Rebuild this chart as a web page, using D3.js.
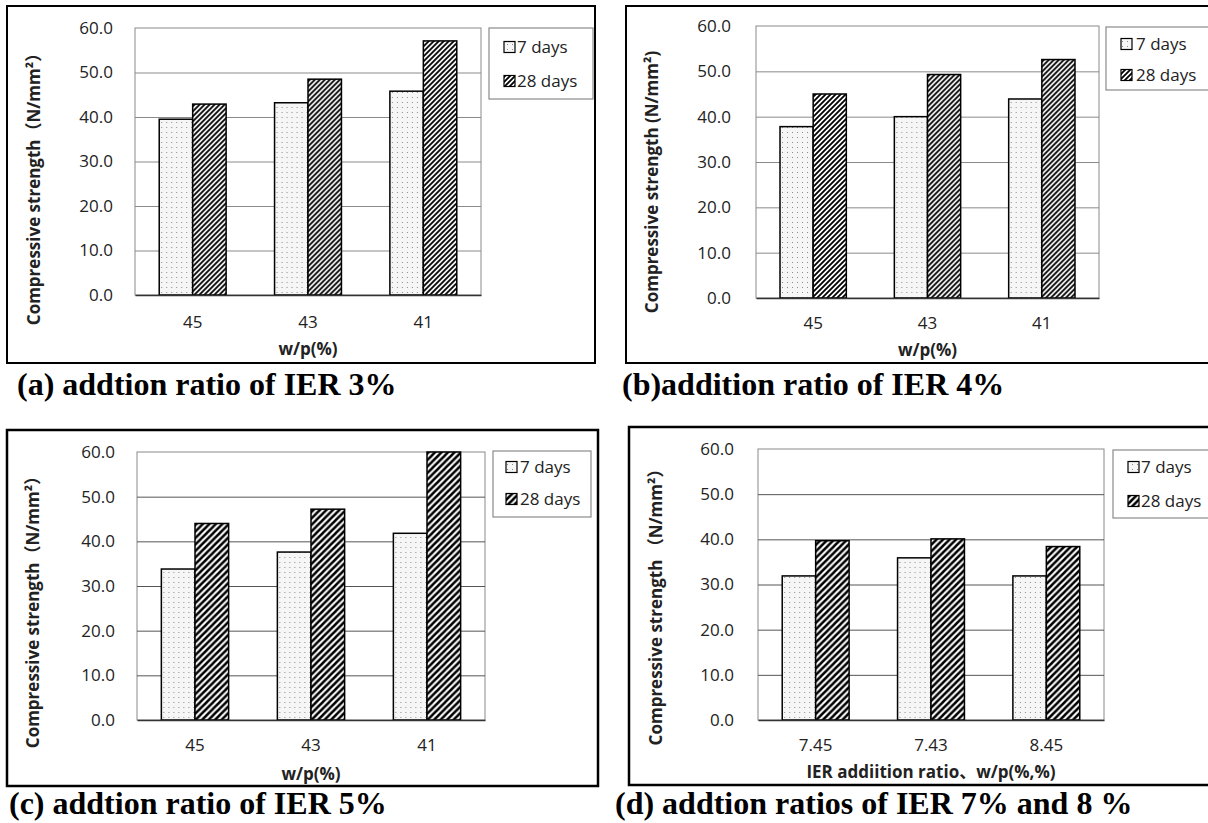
<!DOCTYPE html>
<html>
<head>
<meta charset="utf-8">
<script src="https://cdn.jsdelivr.net/npm/d3@7"></script>
<style>
  body { margin: 0; background: #fff; }
  svg { display: block; }
</style>
</head>
<body>
<div id="chart"></div>
<script>
// Data
const wpCategories = ['45', '43', '41'];
const mixCategories = ['7.45', '7.43', '8.45'];
const seriesNames = ['7 days', '28 days'];
const yTicks = [0, 10, 20, 30, 40, 50, 60];

// (a) IER 3%
const strength7A = [39.5, 43.2, 45.8];
const strength28A = [42.9, 48.5, 57.1];
// (b) IER 4%
const strength7B = [37.8, 40.0, 43.9];
const strength28B = [45.0, 49.3, 52.6];
// (c) IER 5%
const strength7C = [33.8, 37.6, 41.8];
const strength28C = [44.0, 47.2, 60.0];
// (d) IER 7% and 8%
const strength7D = [31.9, 35.9, 31.9];
const strength28D = [39.7, 40.1, 38.4];

const captions = [
    '(a) addtion ratio of IER 3%',
    '(b)addition ratio of IER 4%',
    '(c) addtion ratio of IER 5%',
    '(d) addtion ratios of IER 7% and 8 %'
];
const yTitles = [
    'Compressive strength（N/mm²）',
    'Compressive strength (N/mm²)',
    'Compressive strength（N/mm²）',
    'Compressive strength （N/mm²）'
];
const xTitles = ['w/p(%)', 'w/p(%)', 'w/p(%)', 'IER addiition ratio、w/p(%,%)'];

// Layout of each panel (page pixels)
const panels = [
    { cats: wpCategories, v7: strength7A, v28: strength28A, cap: captions[0], yTitle: yTitles[0], xTitle: xTitles[0],
      frame: [7, 6, 595, 363], plot: [135, 28, 481, 295], legend: [489, 28, 593, 99], rows: [47, 81],
      swatchX: 504, textX: 517, yLabelRight: 113, yTitleX: 34, yTitleY: 185, xLabelY: 322, xTitleY: 349,
      capX: 17, capY: 395, stripe: 'stripeFine', frameW: 2, grid: '#8a8a8a' },
    { cats: wpCategories, v7: strength7B, v28: strength28B, cap: captions[1], yTitle: yTitles[1], xTitle: xTitles[1],
      frame: [626, 6, 1240, 363], plot: [756, 26, 1099, 298], legend: [1106, 27, 1240, 90], rows: [44, 75],
      swatchX: 1121, textX: 1136, yLabelRight: 731, yTitleX: 652, yTitleY: 182, xLabelY: 323, xTitleY: 350,
      capX: 622, capY: 395, stripe: 'stripeFine', frameW: 2, grid: '#8a8a8a' },
    { cats: wpCategories, v7: strength7C, v28: strength28C, cap: captions[2], yTitle: yTitles[2], xTitle: xTitles[2],
      frame: [7, 430, 598, 786], plot: [137, 452, 485, 720], legend: [493, 451, 591, 517], rows: [467, 499],
      swatchX: 506, textX: 520, yLabelRight: 115, yTitleX: 33, yTitleY: 608, xLabelY: 745, xTitleY: 774,
      capX: 9, capY: 814, stripe: 'stripeBold', frameW: 2.5, grid: '#555' },
    { cats: mixCategories, v7: strength7D, v28: strength28D, cap: captions[3], yTitle: yTitles[3], xTitle: xTitles[3],
      frame: [629, 427, 1240, 785], plot: [758, 449, 1104, 720], legend: [1113, 450, 1240, 518], rows: [467, 501],
      swatchX: 1128, textX: 1141, yLabelRight: 734, yTitleX: 656, yTitleY: 603, xLabelY: 745, xTitleY: 772,
      capX: 615, capY: 814, stripe: 'stripeBold', frameW: 2.5, grid: '#555' }
];

const svg = d3.select('#chart').append('svg')
    .attr('width', 1208)
    .attr('height', 823);

// Fill patterns
const defs = svg.append('defs');

const dots = defs.append('pattern')
    .attr('id', 'dots')
    .attr('patternUnits', 'userSpaceOnUse')
    .attr('width', 5)
    .attr('height', 5);
dots.append('rect').attr('width', 5).attr('height', 5).attr('fill', '#f6f6f6');
dots.append('rect').attr('x', 2).attr('y', 2).attr('width', 1).attr('height', 1).attr('fill', '#8c8c8c');

function stripePattern(id, size, width) {
    const p = defs.append('pattern')
        .attr('id', id)
        .attr('patternUnits', 'userSpaceOnUse')
        .attr('width', size)
        .attr('height', size);
    p.append('rect').attr('width', size).attr('height', size).attr('fill', '#fff');
    p.append('path')
        .attr('d', `M0,${size} L${size},0 M${-size / 2},${size / 2} L${size / 2},${-size / 2} M${size / 2},${size * 1.5} L${size * 1.5},${size / 2}`)
        .attr('stroke', '#000')
        .attr('stroke-width', width);
}
stripePattern('stripeFine', 5, 1.8);
stripePattern('stripeBold', 6.5, 2.5);

panels.forEach(drawPanel);

function drawPanel(p) {
    const g = svg.append('g');
    const [pl, pt, pr, pb] = p.plot;

    // Outer frame
    g.append('rect')
        .attr('x', p.frame[0]).attr('y', p.frame[1])
        .attr('width', p.frame[2] - p.frame[0]).attr('height', p.frame[3] - p.frame[1])
        .attr('fill', 'none').attr('stroke', '#000').attr('stroke-width', p.frameW);

    const y = d3.scaleLinear().domain([0, 60]).range([pb, pt]);
    const x0 = d3.scaleBand().domain(p.cats).range([pl, pr])
        .paddingInner(0.42).paddingOuter(0.21);
    const x1 = d3.scaleBand().domain(seriesNames).range([0, x0.bandwidth()]);

    // Plot area border
    g.append('rect')
        .attr('x', pl).attr('y', pt).attr('width', pr - pl).attr('height', pb - pt)
        .attr('fill', '#fff').attr('stroke', '#8a8a8a').attr('stroke-width', 1);

    // Gridlines
    g.append('g')
        .attr('transform', `translate(${pl},0)`)
        .call(d3.axisLeft(y).tickValues(yTicks.slice(1, -1)).tickSize(-(pr - pl)).tickFormat(''))
        .call(s => s.select('.domain').remove())
        .call(s => s.selectAll('line').attr('stroke', p.grid));

    // Y tick labels
    g.append('g')
        .attr('transform', `translate(${pl},0)`)
        .call(d3.axisLeft(y).tickValues(yTicks).tickSize(0).tickPadding(pl - p.yLabelRight).tickFormat(d3.format('.1f')))
        .call(s => s.select('.domain').remove())
        .call(s => s.selectAll('text')
            .attr('font-family', '"Open Sans", sans-serif').attr('font-size', 17).attr('fill', '#222'));

    // Bars
    const groups = g.append('g').selectAll('g')
        .data(p.cats.map((c, i) => ({ cat: c, vals: [p.v7[i], p.v28[i]] })))
        .join('g')
        .attr('transform', d => `translate(${x0(d.cat)},0)`);

    groups.selectAll('rect')
        .data(d => d.vals.map((v, j) => ({ name: seriesNames[j], v })))
        .join('rect')
        .attr('x', d => x1(d.name))
        .attr('y', d => y(d.v))
        .attr('width', x1.bandwidth())
        .attr('height', d => pb - y(d.v))
        .attr('fill', d => d.name === '7 days' ? 'url(#dots)' : `url(#${p.stripe})`)
        .attr('stroke', '#000')
        .attr('stroke-width', 1.5);

    // X axis
    const labelPad = p.xLabelY - pb - 17 * 0.36;
    g.append('g')
        .attr('transform', `translate(0,${pb})`)
        .call(d3.axisBottom(x0).tickSize(0).tickSizeOuter(0).tickPadding(labelPad))
        .call(s => s.select('.domain').attr('stroke', '#333').attr('stroke-width', 1.5))
        .call(s => s.selectAll('text')
            .attr('font-family', '"Open Sans", sans-serif').attr('font-size', 17).attr('fill', '#222'));

    // Axis titles
    g.append('text')
        .attr('x', (pl + pr) / 2).attr('y', p.xTitleY).attr('dy', '0.35em')
        .attr('text-anchor', 'middle')
        .attr('font-family', '"Open Sans", "Noto Sans CJK JP", sans-serif')
        .attr('font-weight', 'bold').attr('font-size', 17).attr('fill', '#222')
        .text(p.xTitle);

    g.append('text')
        .attr('transform', `translate(${p.yTitleX},${p.yTitleY}) rotate(-90)`)
        .attr('dy', '0.35em')
        .attr('text-anchor', 'middle')
        .attr('font-family', '"Open Sans", "Noto Sans CJK JP", sans-serif')
        .attr('font-weight', 'bold').attr('font-size', 17).attr('fill', '#222')
        .text(p.yTitle);

    // Legend
    const [lx0, ly0, lx1, ly1] = p.legend;
    g.append('rect')
        .attr('x', lx0).attr('y', ly0).attr('width', lx1 - lx0).attr('height', ly1 - ly0)
        .attr('fill', '#fff').attr('stroke', '#8a8a8a').attr('stroke-width', 1.2);

    const rows = g.append('g').selectAll('g')
        .data(seriesNames)
        .join('g')
        .attr('transform', (d, i) => `translate(0,${p.rows[i]})`);

    rows.append('rect')
        .attr('x', p.swatchX).attr('y', -5.5).attr('width', 11).attr('height', 11)
        .attr('fill', d => d === '7 days' ? 'url(#dots)' : `url(#${p.stripe})`)
        .attr('stroke', '#000').attr('stroke-width', 1.2);

    rows.append('text')
        .attr('x', p.textX).attr('dy', '0.35em')
        .attr('font-family', '"Open Sans", sans-serif').attr('font-size', 17).attr('fill', '#222')
        .text(d => d);

    // Caption below the frame
    g.append('text')
        .attr('x', p.capX).attr('y', p.capY)
        .attr('font-family', '"Liberation Serif", "Times New Roman", serif')
        .attr('font-weight', 'bold').attr('font-size', 32).attr('fill', '#000')
        .text(p.cap);
}
</script>
</body>
</html>
